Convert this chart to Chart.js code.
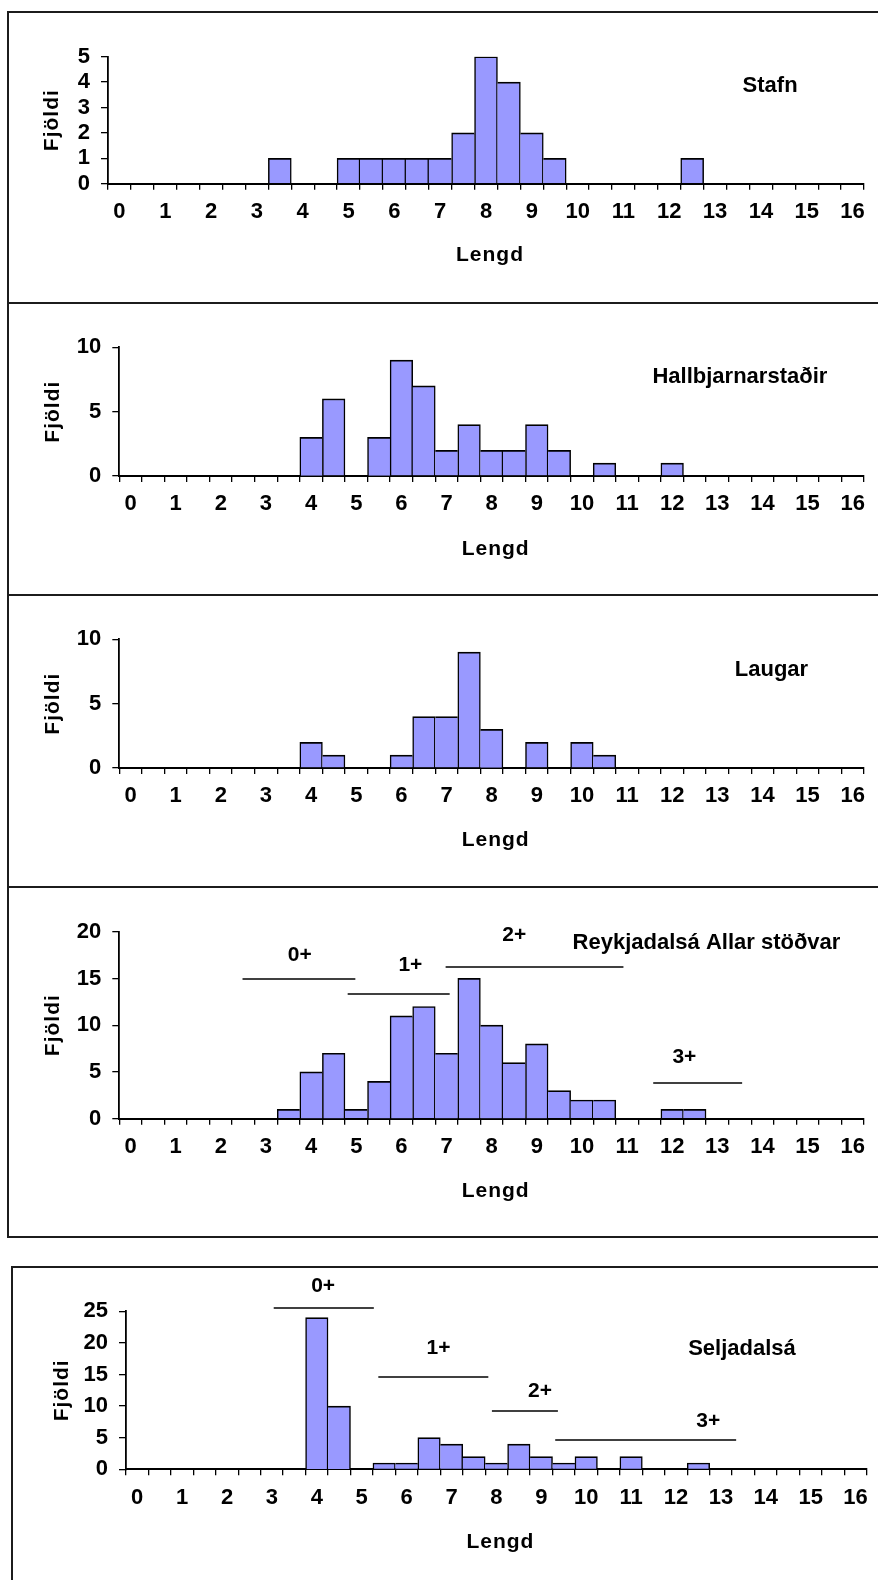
<!DOCTYPE html>
<html>
<head>
<meta charset="utf-8">
<script src="https://cdn.jsdelivr.net/npm/chart.js@4.4.0/dist/chart.umd.min.js"></script>
<style>
html, body { margin: 0; padding: 0; background: #fff; width: 878px; height: 1580px; overflow: hidden; position: relative; }
canvas { position: absolute; left: 0; }
.box { position: absolute; width: 940px; border: 2px solid #1c1c1c; box-sizing: border-box; pointer-events: none; }
</style>
</head>
<body>
<script>
// ---------------- DATA ----------------
const categories = [0, 0.5, 1, 1.5, 2, 2.5, 3, 3.5, 4, 4.5, 5, 5.5, 6, 6.5, 7, 7.5, 8, 8.5, 9, 9.5, 10, 10.5, 11, 11.5, 12, 12.5, 13, 13.5, 14, 14.5, 15, 15.5, 16];
const xTickLabels = ['0', '1', '2', '3', '4', '5', '6', '7', '8', '9', '10', '11', '12', '13', '14', '15', '16'];

const stafn             = [0,0,0,0,0,0,0,1,0,0,1,1,1,1,1,2,5,4,2,1,0,0,0,0,0,1,0,0,0,0,0,0,0];
const hallbjarnarstadir = [0,0,0,0,0,0,0,0,3,6,0,3,9,7,2,4,2,2,4,2,0,1,0,0,1,0,0,0,0,0,0,0,0];
const laugar            = [0,0,0,0,0,0,0,0,2,1,0,0,1,4,4,9,3,0,2,0,2,1,0,0,0,0,0,0,0,0,0,0,0];
const reykjadalsa       = [0,0,0,0,0,0,0,1,5,7,1,4,11,12,7,15,10,6,8,3,2,2,0,0,1,1,0,0,0,0,0,0,0];
const seljadalsa        = [0,0,0,0,0,0,0,0,24,10,0,1,1,5,4,2,1,4,2,1,2,0,2,0,0,1,0,0,0,0,0,0,0];

const panelNames = ['Stafn', 'Hallbjarnarstaðir', 'Laugar', 'Reykjadalsá Allar stöðvar', 'Seljadalsá'];
const yMaxes = [5, 10, 10, 20, 25];
const ySteps = [1, 5, 5, 5, 5];
const xTitle = 'Lengd';
const yTitle = 'Fjöldi';

// age-group ranges (length units) and count level of each bar line
const ageGroupLabels = ['0+', '1+', '2+', '3+'];
const reykAgeFrom  = [2.48, 4.81, 6.98, 11.58];
const reykAgeTo    = [4.98, 7.07, 10.92, 13.55];
const reykAgeLevel = [14.9, 13.3, 16.2, 3.85];
const seljAgeFrom  = [3.04, 5.37, 7.90, 9.31];
const seljAgeTo    = [5.27, 7.82, 9.37, 13.34];
const seljAgeLevel = [25.6, 14.65, 9.27, 4.64];

// ---------------- LAYOUT / STYLE ----------------
const FONT = "'Liberation Sans', Arial, Helvetica, sans-serif";
const TICK_SIZE = 22, AXIS_TITLE_SIZE = 21, NAME_SIZE = 22, AGE_SIZE = 21;
const PAGE_W = 878;
const X_TITLE_DX = 4;

const layout = [
  { boxLeft: 7,  boxTop: 11,   boxH: 293, plotL: 108,   plotR: 864,   plotT: 56.7,   plotB: 183.7,  yTitleX: 52, xTitleY: 255,    nameAt: [14.2, 3.85] },
  { boxLeft: 7,  boxTop: 302,  boxH: 294, plotL: 119.3, plotR: 864,   plotT: 347.3,  plotB: 476,    yTitleX: 53, xTitleY: 549,    nameAt: [13.5, 7.72] },
  { boxLeft: 7,  boxTop: 594,  boxH: 294, plotL: 119.3, plotR: 864,   plotT: 639.3,  plotB: 768,    yTitleX: 53, xTitleY: 840,    nameAt: [14.2, 7.61] },
  { boxLeft: 7,  boxTop: 886,  boxH: 352, plotL: 119.3, plotR: 864,   plotT: 931.7,  plotB: 1118.7, yTitleX: 53, xTitleY: 1191,   nameAt: [12.76, 18.76],
    ageLabelAt: [[3.75, 17.5], [6.2, 16.4], [8.5, 19.6], [12.27, 6.63]] },
  { boxLeft: 11, boxTop: 1266, boxH: 400, canvasH: 314, plotL: 126, plotR: 866.8, plotT: 1311.3, plotB: 1469.3, yTitleX: 62, xTitleY: 1542, nameAt: [13.47, 19.03],
    ageLabelAt: [[4.14, 28.9], [6.71, 19.1], [8.97, 12.4], [12.72, 7.64]] }
];

const seriesList = [stafn, hallbjarnarstadir, laugar, reykjadalsa, seljadalsa];
const ageGroups = [null, null, null,
  { from: reykAgeFrom, to: reykAgeTo, level: reykAgeLevel },
  { from: seljAgeFrom, to: seljAgeTo, level: seljAgeLevel }];

Chart.defaults.font.family = FONT;
Chart.defaults.font.weight = 'bold';
Chart.defaults.color = '#000';
Chart.defaults.animation = false;

// axis titles with letter spacing (x title nudged right like the original)
const AXIS_TITLE_SPACING = '1px';
const spacedTitles = {
  id: 'spacedTitles',
  afterLayout(chart) {
    Object.values(chart.scales).forEach(s => {
      if (s._spaced) return;
      const orig = s.drawTitle;
      s.drawTitle = function () {
        const c = this.ctx;
        c.save();
        c.letterSpacing = AXIS_TITLE_SPACING;
        if (this.isHorizontal()) c.translate(X_TITLE_DX, 0);
        orig.call(this);
        c.restore();
      };
      s._spaced = true;
    });
  }
};

function overlay(idx) {
  const L = layout[idx];
  const groups = ageGroups[idx];
  return {
    id: 'overlay',
    afterDraw(chart) {
      const { ctx } = chart;
      const xs = chart.scales.x, ys = chart.scales.y;
      const step = categories[1] - categories[0];
      const px = len => xs.getPixelForValue((len - categories[0]) / step);
      ctx.save();
      ctx.fillStyle = '#000';
      ctx.strokeStyle = '#000';
      ctx.textAlign = 'center';
      ctx.textBaseline = 'middle';
      ctx.font = `bold ${NAME_SIZE}px ${FONT}`;
      ctx.fillText(panelNames[idx], px(L.nameAt[0]), ys.getPixelForValue(L.nameAt[1]));
      if (groups) {
        ctx.lineWidth = 1.6;
        groups.from.forEach((f, i) => {
          const yy = Math.round(ys.getPixelForValue(groups.level[i]));
          ctx.beginPath();
          ctx.moveTo(px(f), yy);
          ctx.lineTo(px(groups.to[i]), yy);
          ctx.stroke();
          ctx.font = `bold ${AGE_SIZE}px ${FONT}`;
          ctx.fillText(ageGroupLabels[i], px(L.ageLabelAt[i][0]), ys.getPixelForValue(L.ageLabelAt[i][1]));
        });
      }
      ctx.restore();
    }
  };
}

function barBorder(c) {
  const d = c.dataset.data, i = c.dataIndex, v = d[i];
  if (!(v > 0)) return 0;
  const prev = i > 0 ? d[i - 1] : 0;
  const next = i < d.length - 1 ? d[i + 1] : 0;
  return { top: 1.7, bottom: 0, left: prev < v ? 1.5 : 0, right: next <= v ? 1.5 : 0 };
}

layout.forEach((L, idx) => {
  const box = document.createElement('div');
  box.className = 'box';
  box.style.left = L.boxLeft + 'px';
  box.style.top = L.boxTop + 'px';
  box.style.height = L.boxH + 'px';

  const canvas = document.createElement('canvas');
  const T = L.boxTop;
  const H = L.canvasH || L.boxH;
  canvas.width = PAGE_W;
  canvas.height = H;
  canvas.style.top = T + 'px';
  canvas.style.width = PAGE_W + 'px';
  canvas.style.height = H + 'px';
  document.body.appendChild(canvas);
  document.body.appendChild(box);

  const lh = AXIS_TITLE_SIZE * 1.2;
  const xScaleH = H - (L.plotB - T);
  const xTitlePadBottom = H - (L.xTitleY - T) - lh / 2;
  const yTitlePadTop = L.yTitleX - lh / 2;

  new Chart(canvas, {
    type: 'bar',
    data: {
      labels: categories,
      datasets: [{
        data: seriesList[idx],
        backgroundColor: c => (c.raw > 0 ? '#9999FF' : 'rgba(0,0,0,0)'),
        borderColor: '#000',
        borderWidth: barBorder,
        borderSkipped: false,
        barPercentage: 1,
        categoryPercentage: 1
      }]
    },
    options: {
      responsive: false,
      devicePixelRatio: 1,
      layout: { padding: { left: 0, right: PAGE_W - L.plotR, top: L.plotT - T, bottom: 0 } },
      plugins: { legend: { display: false }, tooltip: { enabled: false }, title: { display: false } },
      scales: {
        x: {
          type: 'category',
          offset: true,
          z: 1,
          grid: { display: true, drawOnChartArea: false, drawTicks: true, tickLength: 6, offset: true, color: '#000', lineWidth: 1.3 },
          border: { display: true, color: '#000', width: 2 },
          ticks: {
            autoSkip: false, maxRotation: 0, minRotation: 0, padding: 9,
            font: { size: TICK_SIZE, weight: 'bold' }, color: '#000',
            callback: (v, i) => Number.isInteger(categories[i]) ? xTickLabels[categories[i]] : ''
          },
          title: { display: true, text: xTitle, font: { size: AXIS_TITLE_SIZE, weight: 'bold' }, color: '#000', padding: { top: 0, bottom: xTitlePadBottom } },
          afterFit: s => { s.height = xScaleH; }
        },
        y: {
          min: 0, max: yMaxes[idx],
          z: 1,
          grid: { display: true, drawOnChartArea: false, drawTicks: true, tickLength: 7, color: '#000', lineWidth: 1.3 },
          border: { display: true, color: '#000', width: 1.8 },
          ticks: { stepSize: ySteps[idx], autoSkip: false, padding: 11, font: { size: TICK_SIZE, weight: 'bold' }, color: '#000' },
          title: { display: true, text: yTitle, font: { size: AXIS_TITLE_SIZE, weight: 'bold' }, color: '#000', padding: { top: yTitlePadTop, bottom: 0 } },
          afterFit: s => { s.width = L.plotL; }
        }
      }
    },
    plugins: [spacedTitles, overlay(idx)]
  });
});
</script>
</body>
</html>
